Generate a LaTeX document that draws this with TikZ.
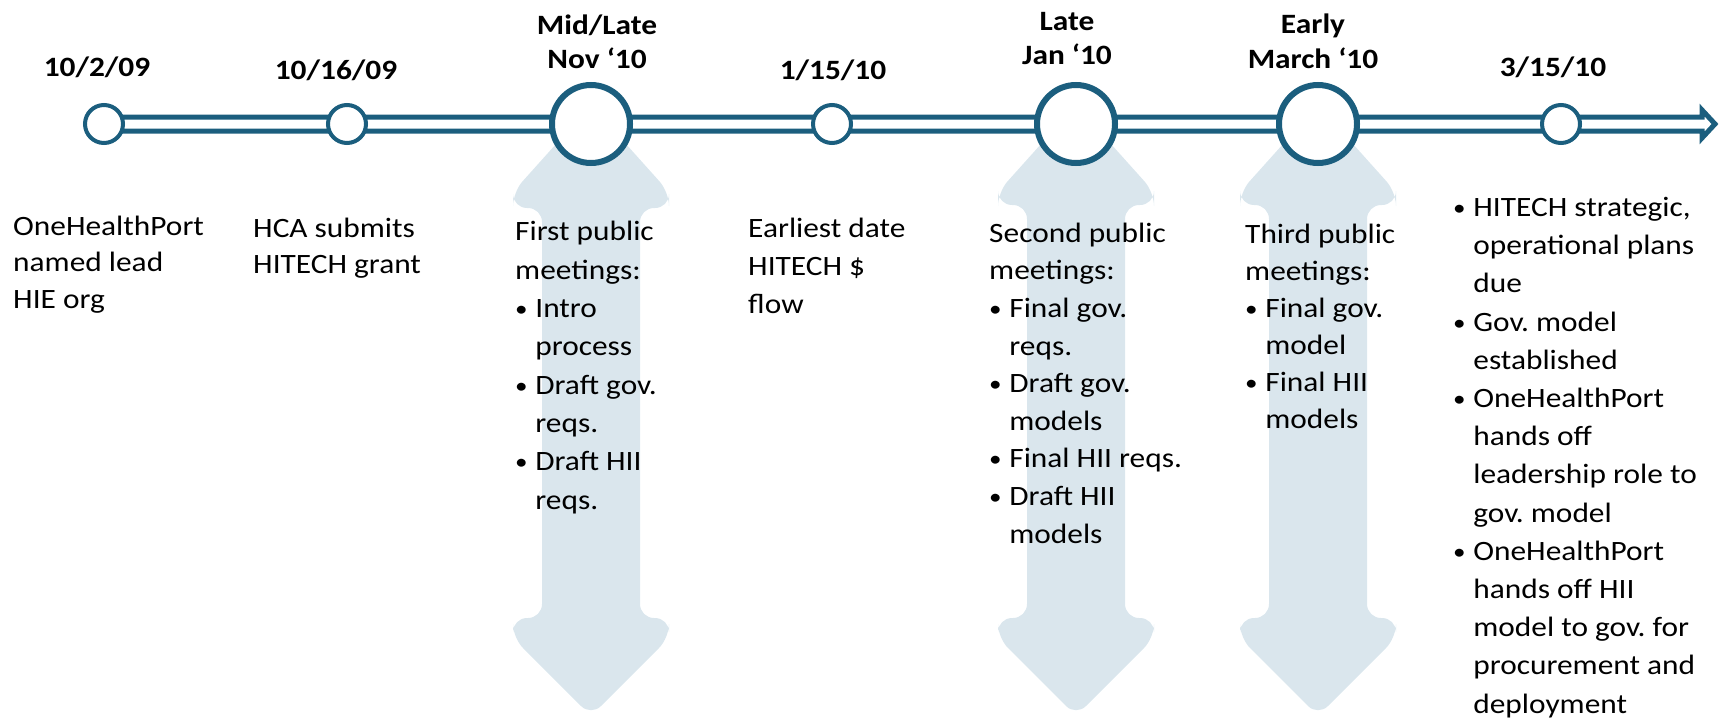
\documentclass[tikz,border=0pt]{standalone}
\usepackage{fontspec}
\setmainfont{Carlito}
\usetikzlibrary{positioning}
\usetikzlibrary{backgrounds}
\definecolor{railblue}{HTML}{1B5E7E}
\definecolor{paleblue}{HTML}{DAE6ED}
\newcommand{\bul}{\makebox[18pt][l]{\raisebox{1pt}{\scalebox{0.8}{\textbullet}}}}
\newcommand{\ind}{\hspace*{18pt}}
\frenchspacing

\begin{document}
\begin{tikzpicture}[x=1pt, y=-1pt,
    rail/.style={draw=railblue, line width=5pt, line join=miter},
    smallring/.style={circle, draw=railblue, line width=4pt, fill=white, minimum size=38pt, inner sep=0pt},
    bigring/.style={circle, draw=railblue, line width=6pt, fill=white, minimum size=78pt, inner sep=0pt},
    meetarrow/.style={fill=paleblue, rounded corners=14pt},
    datelbl/.style={font=\bfseries\fontsize{28}{35}\selectfont, align=center, inner sep=0pt, anchor=base, xscale=1.12},
    note/.style={font=\fontsize{28}{38.3}\selectfont, align=left, inner sep=0pt, anchor=base west, xscale=1.12}]
    \useasboundingbox (0,0) rectangle (1728,725);

    % timeline points
    \node[smallring] (d1) at (104,124) {};
    \node[smallring] (d2) at (347,124) {};
    \node[bigring] (d3) at (591,124) {};
    \node[smallring] (d4) at (832,124) {};
    \node[bigring] (d5) at (1076,124) {};
    \node[bigring] (d6) at (1318,124) {};
    \node[smallring] (d7) at (1561,124) {};
    \coordinate (tip) at (1715,124);

    % dates (anchored on the last line)
    \node[datelbl] (t1) at (97,77) {10/2/09};
    \node[datelbl] (t2) at (336,79) {10/16/09};
    \node[datelbl] (t3) at (597,69) {Mid/Late\\Nov ‘10};
    \node[datelbl] (t4) at (833,79) {1/15/10};
    \node[datelbl] (t5) at (1067,65) {Late\\Jan ‘10};
    \node[datelbl] (t6) at (1313,68) {Early\\March ‘10};
    \node[datelbl] (t7) at (1553,77) {3/15/10};

    % what happens (anchored on the last line)
    \node[note, font=\fontsize{28}{36.5}\selectfont] (b1) at (13,308) {OneHealthPort\\named lead\\HIE org};
    \node[note, font=\fontsize{28}{36}\selectfont] (b2) at (253,273) {HCA submits\\HITECH grant};
    \node[note] (b3) at (515,509) {First public\\meetings:\\\bul Intro\\\ind process\\\bul Draft gov.\\\ind reqs.\\\bul Draft HII\\\ind reqs.};
    \node[note, font=\fontsize{28}{38}\selectfont] (b4) at (748,313) {Earliest date\\HITECH \$\\flow};
    \node[note, font=\fontsize{28}{37.6}\selectfont] (b5) at (989,543) {Second public\\meetings:\\\bul Final gov.\\\ind reqs.\\\bul Draft gov.\\\ind models\\\bul Final HII reqs.\\\bul Draft HII\\\ind models};
    \node[note, font=\fontsize{28}{37}\selectfont] (b6) at (1245,428) {Third public\\meetings:\\\bul Final gov.\\\ind model\\\bul Final HII\\\ind models};
    \node[note, font=\fontsize{28}{38.2}\selectfont] (b7) at (1453,713) {\bul HITECH strategic,\\\ind operational plans\\\ind due\\\bul Gov. model\\\ind established\\\bul OneHealthPort\\\ind hands off\\\ind leadership role to\\\ind gov. model\\\bul OneHealthPort\\\ind hands off HII\\\ind model to gov. for\\\ind procurement and\\\ind deployment};

    \begin{pgfonlayer}{background}
        \fill[meetarrow, shift={(591,0)}] (0,105) -- (78,192) -- (78,208) -- (49,208) -- (49,618) -- (78,618) -- (78,638) -- (0,716) -- (-78,638) -- (-78,618) -- (-49,618) -- (-49,208) -- (-78,208) -- (-78,192) -- cycle;
        \fill[meetarrow, shift={(1076,0)}] (0,105) -- (78,192) -- (78,205) -- (49,205) -- (49,618) -- (78,618) -- (78,638) -- (0,716) -- (-78,638) -- (-78,618) -- (-49,618) -- (-49,205) -- (-78,205) -- (-78,192) -- cycle;
        \fill[meetarrow, shift={(1318,0)}] (0,105) -- (78,192) -- (78,205) -- (49,205) -- (49,618) -- (78,618) -- (78,638) -- (0,716) -- (-78,638) -- (-78,618) -- (-49,618) -- (-49,205) -- (-78,205) -- (-78,192) -- cycle;

        \draw[rail] ([yshift=7pt]d1.center) -- ([xshift=-13pt,yshift=7pt]tip) -- ([xshift=-13pt,yshift=14pt]tip) -- (tip) -- ([xshift=-13pt,yshift=-14pt]tip) -- ([xshift=-13pt,yshift=-7pt]tip) -- ([yshift=-7pt]d1.center);
    \end{pgfonlayer}
\end{tikzpicture}
\end{document}
